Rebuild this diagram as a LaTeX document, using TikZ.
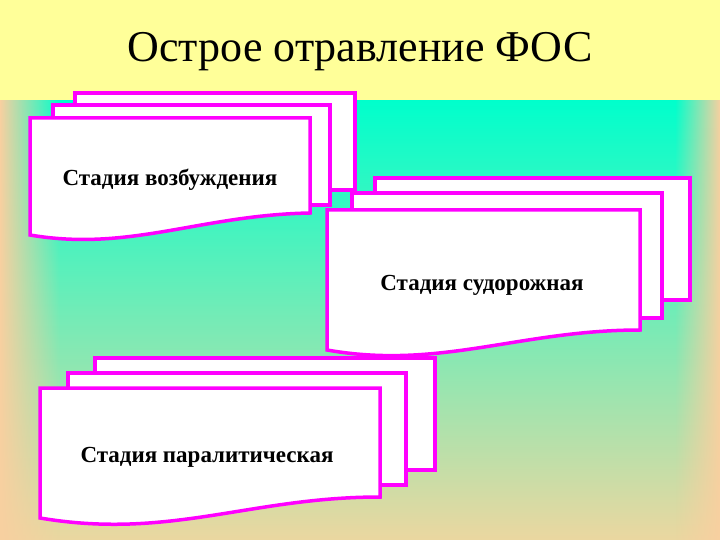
\documentclass[tikz,border=0pt]{standalone}
\usepackage{fontspec}
\usetikzlibrary{fadings}
\setmainfont{Liberation Serif}
\definecolor{mag}{RGB}{255,0,255}
\definecolor{peach}{RGB}{248,208,160}
\definecolor{aqua}{RGB}{0,255,204}
\definecolor{mint}{RGB}{150,235,190}
\definecolor{beige}{RGB}{235,215,160}
\definecolor{titlebg}{RGB}{255,255,153}
\begin{document}
\begin{tikzpicture}[x=1pt,y=-1pt,
  doc/.style={draw=mag,line width=3.5pt,fill=white,line join=miter},
  lbl/.style={font=\bfseries\fontsize{23}{26}\selectfont,text=black}]
\useasboundingbox (0,0) rectangle (720,540);
\shade[top color=aqua, middle color=mint, bottom color=beige] (0,100) rectangle (720,540);
\fill[peach,path fading=east] (0,100) rectangle (60,540);
\fill[peach,path fading=west] (675,100) rectangle (720,540);
\fill[titlebg] (0,0) rectangle (720,100);
\node (title) at (360,52) {\fontsize{44}{50}\selectfont Острое отравление ФОС};
\draw[doc] (75,93) rectangle (355,190);
\draw[doc] (53,105) rectangle (330,205);
\draw[doc] (30,118) -- (310,118) -- (310,213) .. controls (200,215) and (130,252) .. (30,235) -- cycle;
\node[lbl] (s1) at (170,180) {Стадия возбуждения};
\draw[doc] (375,178) rectangle (690,300);
\draw[doc] (352,193) rectangle (662,318);
\draw[doc] (327,210) -- (640,210) -- (640,330) .. controls (520,330) and (440,370) .. (327,350) -- cycle;
\node[lbl] (s2) at (482,285) {Стадия судорожная};
\draw[doc] (95,358) rectangle (435,470);
\draw[doc] (68,373) rectangle (406,485);
\draw[doc] (40,388) -- (380,388) -- (380,497) .. controls (250,497) and (170,540) .. (40,518) -- cycle;
\node[lbl] (s3) at (207,457) {Стадия паралитическая};
\end{tikzpicture}
\end{document}
